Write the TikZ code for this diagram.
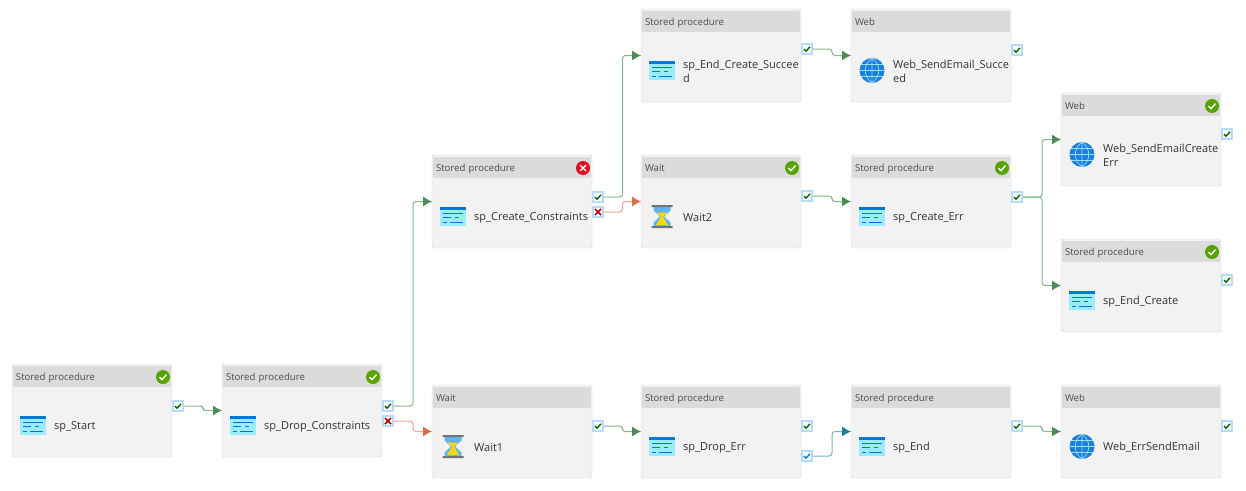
\documentclass[tikz,border=0pt]{standalone}
\usepackage{fontspec}
\setmainfont{Open Sans}
\usetikzlibrary{calc,arrows.meta}
\definecolor{okgreen}{HTML}{57A300}
\definecolor{failred}{HTML}{E00B1C}
\definecolor{oktip}{HTML}{4C8C56}
\definecolor{okwire}{HTML}{86B58C}
\definecolor{failtip}{HTML}{DD6B4D}
\definecolor{failwire}{HTML}{E9A594}
\definecolor{donetip}{HTML}{1F7A9C}
\definecolor{donewire}{HTML}{79B1C8}
\definecolor{azure}{HTML}{0078D4}
\definecolor{sky}{HTML}{9CEBFF}
\definecolor{glass}{HTML}{5EB5F5}
\definecolor{sand}{HTML}{FFD70F}
\definecolor{globe}{HTML}{1C7FE0}
\definecolor{glow}{HTML}{B5DBF7}
\newcommand{\activity}[6]{
 \node[card] (#1) at (#2,#3) {};
 \node[cardhead] (#1head) at ($(#1.north west)+(1,2)$) {#4};
 \pic at ($(#1.north west)+(21,61.5)$) {#6};
 \node[cardtext] (#1text) at ($(#1.north west)+(41,62.5)$) {#5};
}
\newcommand{\link}[3]{\draw[#1] (#2.east) -- ($(#2.east)!.5!(#3.west |- #2.east)$) |- (#3.west);}

\begin{document}
\begin{tikzpicture}[x=1pt,y=-1pt]
 \tikzset{card/.style={draw=black!17,fill=black!5,rounded corners=2pt,anchor=north west,minimum width=160,minimum height=93,outer sep=0},
  cardhead/.style={fill=black!14,anchor=north west,minimum width=158,minimum height=21,text width=152,text height=7,text depth=0,inner sep=3,outer sep=0,font=\fontsize{9.6}{11}\selectfont,text=black!70},
  cardtext/.style={anchor=west,align=left,inner sep=1,font=\fontsize{11}{14}\selectfont,text=black!80},
  port/.style={draw=glow,fill=white,line width=1.4,minimum size=10,inner sep=0,outer sep=1},
  okport/.style={port,path picture={\draw[green!40!black,line width=1.4] ($(path picture bounding box.center)+(-3,0)$) -- ++(2,2.2) -- ++(4,-4.4);}},
  doneport/.style={port,path picture={\draw[azure,line width=1.4] ($(path picture bounding box.center)+(-3,0)$) -- ++(2,2.2) -- ++(4,-4.4);}},
  failport/.style={port,path picture={\draw[red!70!black,line width=1.6] ($(path picture bounding box.center)+(-3,-3)$) -- ++(6,6) ++(0,-6) -- ++(-6,6);}},
  okbadge/.style={circle,fill=okgreen,minimum size=14,inner sep=0,path picture={\draw[white,line width=1.4] ($(path picture bounding box.center)+(-3.5,0)$) -- ++(2.5,2.6) -- ++(4.5,-5);}},
  failbadge/.style={circle,fill=failred,minimum size=14,inner sep=0,path picture={\draw[white,line width=1.4] ($(path picture bounding box.center)+(-3,-3)$) -- ++(6,6) ++(0,-6) -- ++(-6,6);}},
  okline/.style={draw=okwire,line width=1,rounded corners=3,-{Latex[length=9,width=10,color=oktip]}},
  failline/.style={draw=failwire,line width=1,rounded corners=3,-{Latex[length=9,width=10,color=failtip]}},
  doneline/.style={draw=donewire,line width=1,rounded corners=3,-{Latex[length=9,width=10,color=donetip]}},
  pics/sqlicon/.style={code={
   \fill[sky] (-13,-9.5) rectangle (13,9.5);
   \fill[azure] (-13,-9.5) rectangle (13,-6.5);
   \draw[azure,line width=1] (-10,-3) -- (10,-3) (-10,1) -- (-2,1) (2,1) -- (6,1) (-10,5.5) -- (-6,5.5) (-3,5.5) -- (10,5.5);
  }},
  pics/waiticon/.style={code={
   \fill[glass] (-8.5,-10) -- (8.5,-10) -- (8.5,-6) -- (2,0) -- (8.5,6) -- (8.5,10) -- (-8.5,10) -- (-8.5,6) -- (-2,0) -- (-8.5,-6) -- cycle;
   \fill[sand] (-5.5,-4) -- (5.5,-4) -- (1,0) -- (6,8.5) -- (-6,8.5) -- (-1,0) -- cycle;
   \fill[black!55] (-10.5,-11.5) rectangle (10.5,-9.5) (-10.5,9.5) rectangle (10.5,11.5);
  }},
  pics/webicon/.style={code={
   \fill[globe] (0,0) circle (12.5);
   \draw[cyan!40!white,line width=.7] (0,-12.5) -- (0,12.5) (-12.5,0) -- (12.5,0) (-11,-6) -- (11,-6) (-11,6) -- (11,6) (0,-12.5) .. controls (-9,-6) and (-9,6) .. (0,12.5) (0,-12.5) .. controls (9,-6) and (9,6) .. (0,12.5);
  }}}
 \useasboundingbox (0,0) rectangle (1246,490);

 \activity{Start}{12}{364}{Stored procedure}{sp\_Start}{sqlicon}
 \activity{Drop}{222}{364}{Stored procedure}{sp\_Drop\_Constraints}{sqlicon}
 \activity{Create}{432}{155}{Stored procedure}{sp\_Create\_Constraints}{sqlicon}
 \activity{WaitA}{432}{385}{Wait}{Wait1}{waiticon}
 \activity{EndSucceed}{641}{9}{Stored procedure}{sp\_End\_Create\_Succee\\d}{sqlicon}
 \activity{WaitB}{641}{155}{Wait}{Wait2}{waiticon}
 \activity{DropErr}{641}{385}{Stored procedure}{sp\_Drop\_Err}{sqlicon}
 \activity{WebSucceed}{851}{9}{Web}{Web\_SendEmail\_Succe\\ed}{webicon}
 \activity{CreateErr}{851}{155}{Stored procedure}{sp\_Create\_Err}{sqlicon}
 \activity{End}{851}{385}{Stored procedure}{sp\_End}{sqlicon}
 \activity{WebCreate}{1061}{93}{Web}{Web\_SendEmailCreate\\Err}{webicon}
 \activity{EndCreate}{1061}{239}{Stored procedure}{sp\_End\_Create}{sqlicon}
 \activity{WebErr}{1061}{385}{Web}{Web\_ErrSendEmail}{webicon}

 \node[okbadge] (StartBadge) at ($(Start.north east)+(-9,13)$) {};
 \node[okbadge] (DropBadge) at ($(Drop.north east)+(-9,13)$) {};
 \node[failbadge] (CreateBadge) at ($(Create.north east)+(-9,13)$) {};
 \node[okbadge] (WaitBBadge) at ($(WaitB.north east)+(-9,13)$) {};
 \node[okbadge] (CreateErrBadge) at ($(CreateErr.north east)+(-9,13)$) {};
 \node[okbadge] (WebCreateBadge) at ($(WebCreate.north east)+(-9,13)$) {};
 \node[okbadge] (EndCreateBadge) at ($(EndCreate.north east)+(-9,13)$) {};

 \node[okport] (StartOk) at ($(Start.north east)+(6,42)$) {};
 \node[okport] (DropOk) at ($(Drop.north east)+(6,42)$) {};
 \node[failport] (DropFail) at ($(Drop.north east)+(6,57)$) {};
 \node[okport] (CreateOk) at ($(Create.north east)+(6,42)$) {};
 \node[failport] (CreateFail) at ($(Create.north east)+(6,57)$) {};
 \node[okport] (WaitAOk) at ($(WaitA.north east)+(6,41)$) {};
 \node[okport] (EndSucceedOk) at ($(EndSucceed.north east)+(6,40)$) {};
 \node[okport] (WaitBOk) at ($(WaitB.north east)+(6,41)$) {};
 \node[okport] (DropErrOk) at ($(DropErr.north east)+(6,41)$) {};
 \node[doneport] (DropErrDone) at ($(DropErr.north east)+(6,71)$) {};
 \node[okport] (WebSucceedOk) at ($(WebSucceed.north east)+(6,41)$) {};
 \node[okport] (CreateErrOk) at ($(CreateErr.north east)+(6,42)$) {};
 \node[okport] (EndOk) at ($(End.north east)+(6,41)$) {};
 \node[okport] (WebCreateOk) at ($(WebCreate.north east)+(6,41)$) {};
 \node[okport] (EndCreateOk) at ($(EndCreate.north east)+(6,41)$) {};
 \node[okport] (WebErrOk) at ($(WebErr.north east)+(6,41)$) {};

 \link{okline}{StartOk}{Drop}
 \link{okline}{DropOk}{Create}
 \link{failline}{DropFail}{WaitA}
 \link{okline}{CreateOk}{EndSucceed}
 \link{failline}{CreateFail}{WaitB}
 \link{okline}{WaitAOk}{DropErr}
 \link{okline}{EndSucceedOk}{WebSucceed}
 \link{okline}{WaitBOk}{CreateErr}
 \link{doneline}{DropErrDone}{End}
 \link{okline}{CreateErrOk}{WebCreate}
 \link{okline}{CreateErrOk}{EndCreate}
 \link{okline}{EndOk}{WebErr}
\end{tikzpicture}
\end{document}
